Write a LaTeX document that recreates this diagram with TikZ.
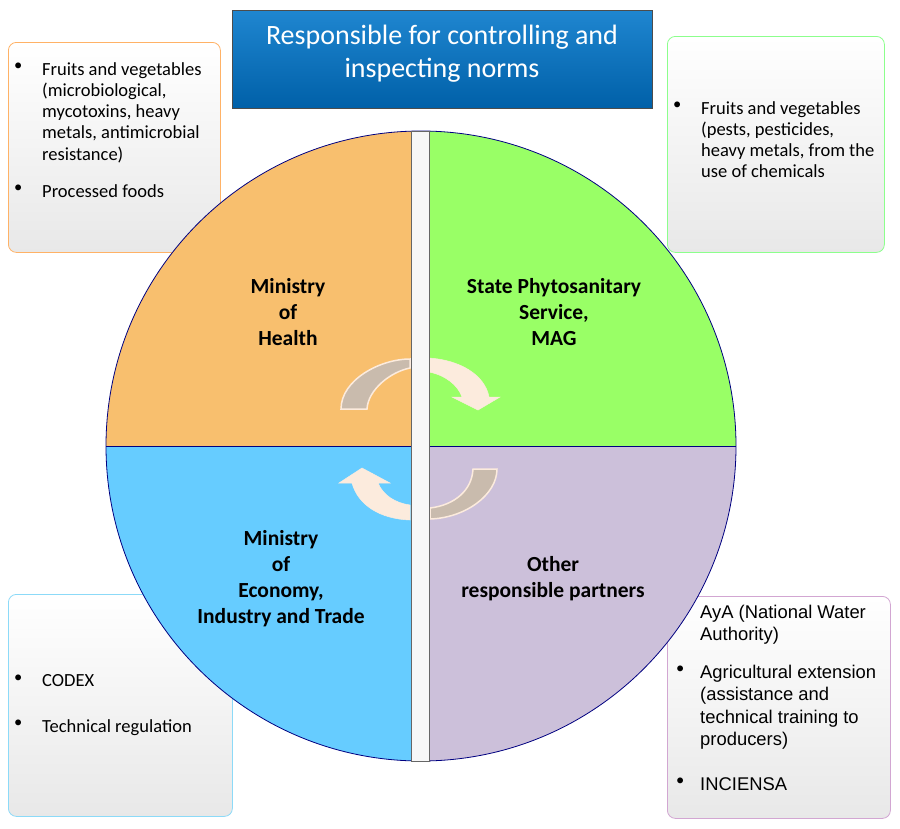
\documentclass[tikz,border=0pt]{standalone}
\usepackage{fontspec}
\setmainfont{Carlito}
\newfontfamily\arialf{Liberation Sans}
\definecolor{qo}{HTML}{F8BF6E}
\definecolor{qg}{HTML}{99FF66}
\definecolor{qb}{HTML}{66CCFF}
\definecolor{ql}{HTML}{CCC0DA}
\definecolor{tan}{HTML}{C9BBAD}
\definecolor{peach}{HTML}{FCEBDD}
\definecolor{navy}{HTML}{000080}
\definecolor{tbl1}{HTML}{1F86D0}
\definecolor{tbl2}{HTML}{0060A8}
\begin{document}
\begin{tikzpicture}[x=1pt,y=-1pt,
 box/.style={rounded corners=8pt,top color=white,bottom color=black!9,line width=0.8pt},
 btxt/.style={anchor=north west,align=left,font=\fontsize{18.5}{21.3}\selectfont,inner sep=0pt},
 bul/.style={anchor=north west,inner sep=0pt,font=\fontsize{16.5}{21.5}\selectfont},
 atxt/.style={btxt,font=\arialf\fontsize{18.4}{22.4}\selectfont},
 qlab/.style={align=center,font=\fontsize{21.5}{26}\selectfont\bfseries},
 tanband/.style={fill=tan,draw=peach,line width=1.5pt},
 parrow/.style={fill=peach,draw=peach,line width=0.5pt}]
\useasboundingbox (0,0) rectangle (900,828);
% boxes (behind circle)
\node[box,draw=orange!60,minimum width=212pt,minimum height=210pt,anchor=north west] (b1) at (8,42) {};
\node[box,draw=green!45,minimum width=217pt,minimum height=216pt,anchor=north west] (b2) at (667,36) {};
\node[box,draw=cyan!45,minimum width=224pt,minimum height=222pt,anchor=north west] (b3) at (8,594) {};
\node[box,draw=violet!35,minimum width=223pt,minimum height=222pt,anchor=north west] (b4) at (667,596) {};
% quadrants
\begin{scope}
\clip (421,446) circle[radius=315];
\fill[qo] (100,120) rectangle (421,446);
\fill[qg] (421,120) rectangle (740,446);
\fill[qb] (100,446) rectangle (421,770);
\fill[ql] (421,446) rectangle (740,770);
\end{scope}
\draw[navy,line width=0.8pt] (106,446) -- (736,446);
\draw[navy,line width=0.8pt] (421,446) circle[radius=315];
% arrows
\path[tanband] (341,409) .. controls (341,380) and (380,359) .. (410,359) -- (410,368) .. controls (390,372) and (368,390) .. (367,409) -- cycle;
\path[parrow] (429,358) .. controls (460,360) and (485,375) .. (489,397) -- (500,397) -- (478,410) -- (452,397) -- (462,397) .. controls (458,385) and (445,375) .. (429,372) -- cycle;
\path[tanband] (497,469) .. controls (497,495) and (465,518) .. (430,519) -- (430,508) .. controls (455,505) and (472,490) .. (473,469) -- cycle;
\path[parrow] (410,520) .. controls (380,519) and (358,505) .. (352,483) -- (339,483) -- (362,468) -- (390,483) -- (378,483) .. controls (383,495) and (395,503) .. (410,505) -- cycle;
% bar
\filldraw[fill=black!3,draw=black!60,line width=0.8pt] (411,131) rectangle (429,761);
% labels
\node[qlab] (mh) at (288,312) {Ministry\\of\\Health};
\node[qlab] (sp) at (554,312) {State Phytosanitary\\Service,\\MAG};
\node[qlab] (me) at (281,579) {Ministry\\of\\Economy,\\Industry and Trade};
\node[qlab] (op) at (553,579) {Other\\responsible partners};
% title
\node[draw=black!70,top color=tbl1,bottom color=tbl2,minimum width=420pt,minimum height=98pt,anchor=north west,inner sep=0pt] (tb) at (232,10) {};
\node[text=white,align=center,font=\fontsize{28}{33}\selectfont] (tt) at (442,54) {Responsible for controlling and\\inspecting norms};
% TL text
\node[bul] (b1a) at (14,63) {\textbullet};
\node[btxt] (t1a) at (42,62) {Fruits and vegetables\\(microbiological,\\mycotoxins, heavy\\metals, antimicrobial\\resistance)};
\node[bul] (b1b) at (14,185) {\textbullet};
\node[btxt] (t1b) at (42,184) {Processed foods};
% TR text
\node[bul] (b2a) at (673,102) {\textbullet};
\node[btxt] (t2a) at (701,101) {Fruits and vegetables\\(pests, pesticides,\\heavy metals, from the\\use of chemicals};
% BL text
\node[bul] (b3a) at (14,675) {\textbullet};
\node[btxt] (t3a) at (42,674) {CODEX};
\node[bul] (b3b) at (14,720) {\textbullet};
\node[btxt] (t3b) at (42,719) {Technical regulation};
% BR text
\node[atxt] (t4a) at (700,605) {AyA (National Water\\Authority)};
\node[bul] (b4a) at (676,666) {\textbullet};
\node[atxt] (t4b) at (700,665) {Agricultural extension\\(assistance and\\technical training to\\producers)};
\node[bul] (b4b) at (676,778) {\textbullet};
\node[atxt] (t4c) at (700,777) {INCIENSA};
\end{tikzpicture}
\end{document}
